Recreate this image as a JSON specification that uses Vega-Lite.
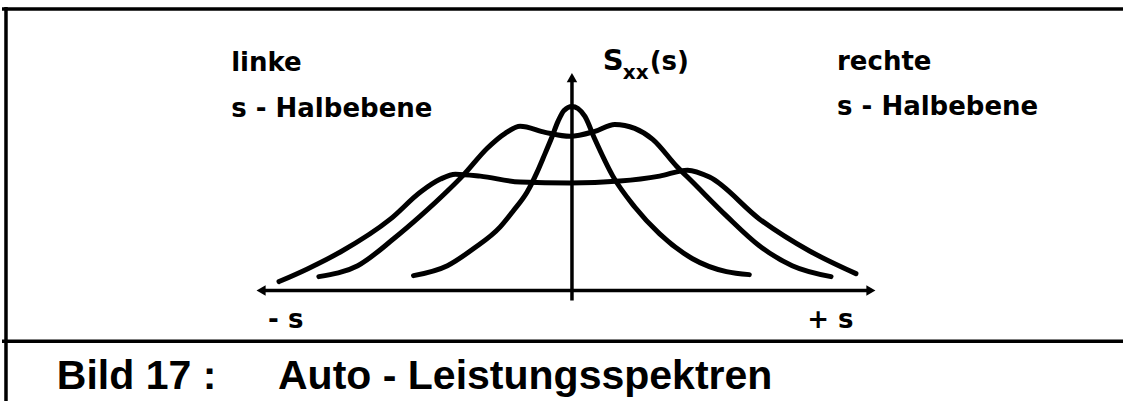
{
  "$schema": "https://vega.github.io/schema/vega-lite/v6.json",
  "width": 1125,
  "height": 403,
  "autosize": {"type": "fit", "contains": "padding"},
  "padding": 0,
  "background": "white",
  "config": {"view": {"stroke": null}},
  "datasets": {
    "curves": [
      {"curve": "A", "x": -159, "y": 15},
      {"curve": "A", "x": -125, "y": 25},
      {"curve": "A", "x": -99, "y": 42},
      {"curve": "A", "x": -72, "y": 64},
      {"curve": "A", "x": -59, "y": 80},
      {"curve": "A", "x": -45, "y": 99},
      {"curve": "A", "x": -35, "y": 119},
      {"curve": "A", "x": -29, "y": 133},
      {"curve": "A", "x": -21, "y": 152},
      {"curve": "A", "x": -14, "y": 170},
      {"curve": "A", "x": -8, "y": 181},
      {"curve": "A", "x": 0, "y": 185},
      {"curve": "A", "x": 6, "y": 183},
      {"curve": "A", "x": 13, "y": 175},
      {"curve": "A", "x": 23, "y": 152},
      {"curve": "A", "x": 41, "y": 115},
      {"curve": "A", "x": 63, "y": 84},
      {"curve": "A", "x": 88, "y": 57},
      {"curve": "A", "x": 121, "y": 32},
      {"curve": "A", "x": 155, "y": 19},
      {"curve": "A", "x": 178, "y": 16},
      {"curve": "B", "x": -254, "y": 14},
      {"curve": "B", "x": -215, "y": 25},
      {"curve": "B", "x": -179, "y": 52},
      {"curve": "B", "x": -152, "y": 75},
      {"curve": "B", "x": -125, "y": 100},
      {"curve": "B", "x": -109, "y": 116},
      {"curve": "B", "x": -85, "y": 143},
      {"curve": "B", "x": -67, "y": 158},
      {"curve": "B", "x": -52, "y": 165},
      {"curve": "B", "x": -27, "y": 159},
      {"curve": "B", "x": -2, "y": 155},
      {"curve": "B", "x": 23, "y": 160},
      {"curve": "B", "x": 43, "y": 167},
      {"curve": "B", "x": 63, "y": 163},
      {"curve": "B", "x": 81, "y": 152},
      {"curve": "B", "x": 105, "y": 125},
      {"curve": "B", "x": 121, "y": 109},
      {"curve": "B", "x": 155, "y": 75},
      {"curve": "B", "x": 188, "y": 45},
      {"curve": "B", "x": 221, "y": 25},
      {"curve": "B", "x": 260, "y": 14},
      {"curve": "C", "x": -294, "y": 9},
      {"curve": "C", "x": -265, "y": 22},
      {"curve": "C", "x": -232, "y": 39},
      {"curve": "C", "x": -182, "y": 72},
      {"curve": "C", "x": -152, "y": 99},
      {"curve": "C", "x": -132, "y": 112},
      {"curve": "C", "x": -117, "y": 117},
      {"curve": "C", "x": -92, "y": 115},
      {"curve": "C", "x": -52, "y": 109},
      {"curve": "C", "x": -2, "y": 108},
      {"curve": "C", "x": 48, "y": 110},
      {"curve": "C", "x": 88, "y": 115},
      {"curve": "C", "x": 116, "y": 121},
      {"curve": "C", "x": 138, "y": 114},
      {"curve": "C", "x": 188, "y": 72},
      {"curve": "C", "x": 238, "y": 40},
      {"curve": "C", "x": 285, "y": 17}
    ],
    "rules": [
      {"x": -312, "y": 0, "x2": 300, "y2": 0},
      {"x": 0, "y": -10, "x2": 0, "y2": 212},
      {"x": -572, "y": 283, "x2": 553, "y2": 283},
      {"x": -572, "y": -51, "x2": 553, "y2": -51},
      {"x": -568, "y": 285, "x2": -568, "y2": -111}
    ],
    "arrows": [
      {"x": -312, "y": 0, "dir": "left"},
      {"x": 300, "y": 0, "dir": "right"},
      {"x": 0, "y": 214, "dir": "up"}
    ],
    "texts": [
      {"role": "label", "x": -342, "y": 221, "text": "linke"},
      {"role": "label", "x": -342, "y": 174, "text": "s - Halbebene"},
      {"role": "label", "x": 266, "y": 222, "text": "rechte"},
      {"role": "label", "x": 266, "y": 176, "text": "s - Halbebene"},
      {"role": "label", "x": -305, "y": -38, "text": "- s"},
      {"role": "label", "x": 236, "y": -38, "text": "+ s"},
      {"role": "label", "x": 78, "y": 222, "text": "(s)"},
      {"role": "big", "x": 31, "y": 222, "text": "S"},
      {"role": "sub", "x": 51, "y": 213, "text": "xx"},
      {"role": "caption", "x": -517, "y": -99, "text": "Bild 17 :"},
      {"role": "caption", "x": -295, "y": -99, "text": "Auto - Leistungsspektren"}
    ]
  },
  "encoding": {
    "x": {"field": "x", "type": "quantitative", "scale": {"domain": [-572, 553], "nice": false, "zero": false}, "axis": null},
    "y": {"field": "y", "type": "quantitative", "scale": {"domain": [-111, 292], "nice": false, "zero": false}, "axis": null}
  },
  "layer": [
    {
      "data": {"name": "rules"},
      "mark": {"type": "rule", "color": "black", "strokeWidth": 3.5},
      "encoding": {
        "x2": {"field": "x2"},
        "y2": {"field": "y2"}
      }
    },
    {
      "data": {"name": "curves"},
      "mark": {"type": "line", "color": "black", "strokeWidth": 5, "interpolate": "monotone", "strokeCap": "round"},
      "encoding": {
        "detail": {"field": "curve", "type": "nominal"},
        "order": {"field": "x", "type": "quantitative"}
      }
    },
    {
      "data": {"name": "arrows"},
      "mark": {"type": "point", "filled": true, "color": "black", "size": 110, "opacity": 1},
      "encoding": {
        "shape": {"field": "dir", "type": "nominal", "scale": {"domain": ["left", "right", "up"], "range": ["triangle-left", "triangle-right", "triangle-up"]}, "legend": null}
      }
    },
    {
      "data": {"name": "texts"},
      "transform": [{"filter": "datum.role === 'label'"}],
      "mark": {"type": "text", "align": "left", "baseline": "alphabetic", "font": "DejaVu Sans", "fontWeight": "bold", "fontSize": 26, "color": "black"},
      "encoding": {"text": {"field": "text"}}
    },
    {
      "data": {"name": "texts"},
      "transform": [{"filter": "datum.role === 'big'"}],
      "mark": {"type": "text", "align": "left", "baseline": "alphabetic", "font": "DejaVu Sans", "fontWeight": "bold", "fontSize": 29, "color": "black"},
      "encoding": {"text": {"field": "text"}}
    },
    {
      "data": {"name": "texts"},
      "transform": [{"filter": "datum.role === 'sub'"}],
      "mark": {"type": "text", "align": "left", "baseline": "alphabetic", "font": "DejaVu Sans", "fontWeight": "bold", "fontSize": 20, "color": "black"},
      "encoding": {"text": {"field": "text"}}
    },
    {
      "data": {"name": "texts"},
      "transform": [{"filter": "datum.role === 'caption'"}],
      "mark": {"type": "text", "align": "left", "baseline": "alphabetic", "font": "Liberation Sans", "fontWeight": "bold", "fontSize": 41, "color": "black"},
      "encoding": {"text": {"field": "text"}}
    }
  ]
}
